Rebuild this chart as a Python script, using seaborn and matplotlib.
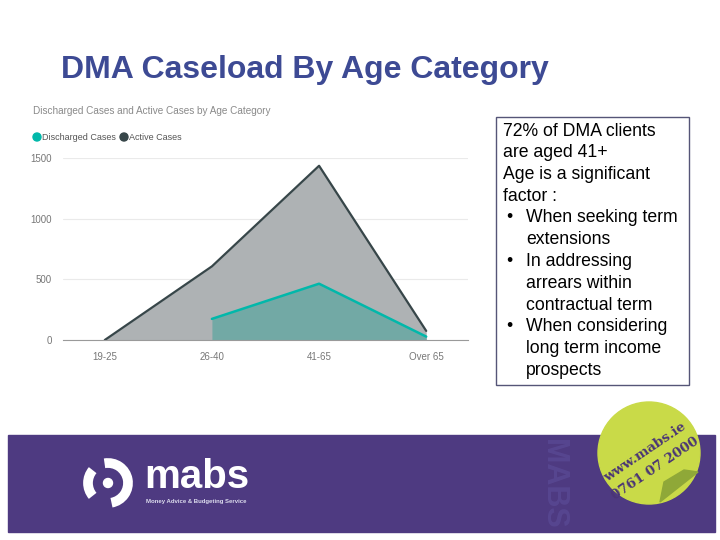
import numpy as np
import pandas as pd
import matplotlib
matplotlib.use("Agg")
import matplotlib.pyplot as plt
import matplotlib.patches as mpatches
import seaborn as sns

# Data
age_groups = ["19-25", "26-40", "41-65", "Over 65"]
active_cases = [0, 607, 1436, 75]
discharged_cases = [np.nan, 174, 464, 28]

notes = [
    ("72% of DMA clients", False),
    ("are aged 41+", False),
    ("Age is a significant", False),
    ("factor :", False),
    ("When seeking term", True),
    ("extensions", None),
    ("In addressing", True),
    ("arrears within", None),
    ("contractual term", None),
    ("When considering", True),
    ("long term income", None),
    ("prospects", None),
]

df = pd.DataFrame({
    "age": age_groups,
    "pos": range(len(age_groups)),
    "Active Cases": active_cases,
    "Discharged Cases": discharged_cases,
})

sns.set_style("white")
plt.rcParams["font.family"] = ["Liberation Sans", "DejaVu Sans"]

W, H = 720, 540
fig = plt.figure(figsize=(7.2, 5.4), dpi=100)

# overlay in pixel coordinates for the slide decoration
ov = fig.add_axes([0, 0, 1, 1])
ov.set_xlim(0, W)
ov.set_ylim(H, 0)
ov.axis("off")


def fy(y):
    return 1 - y / H


# Chart axes
ax = fig.add_axes([63 / W, fy(340), 405 / W, fy(158) - fy(340)])
ax.set_facecolor("none")

active_col = "#374649"
active_fill = "#AEB2B4"
dis_col = "#01B8AA"
dis_fill = "#72A9A5"

ax.fill_between(df["pos"], df["Active Cases"], color=active_fill, lw=0)
sns.lineplot(data=df, x="pos", y="Active Cases", ax=ax, color=active_col, lw=1.6)
d = df.dropna()
ax.fill_between(d["pos"], d["Discharged Cases"], color=dis_fill, lw=0)
sns.lineplot(data=d, x="pos", y="Discharged Cases", ax=ax, color=dis_col, lw=1.8)

ax.set_xlim(-0.39, 3.39)
ax.set_ylim(0, 1500)
ax.set_yticks([0, 500, 1000, 1500])
ax.set_xticks(df["pos"])
ax.set_xticklabels(age_groups)
ax.grid(axis="y", color="#EAEAEA", lw=0.8)
ax.set_axisbelow(True)
for s in ["top", "right", "left"]:
    ax.spines[s].set_visible(False)
ax.spines["bottom"].set_color("#9A9A9A")
ax.spines["bottom"].set_linewidth(0.8)
ax.tick_params(axis="both", length=0, labelsize=7, colors="#777777")
ax.tick_params(axis="x", pad=9)
ax.tick_params(axis="y", pad=8)
ax.set_xlabel("")
ax.set_ylabel("")

# Chart caption and legend
ov.text(33, 111, "Discharged Cases and Active Cases by Age Category",
        fontsize=7.2, color="#8A8A8A", va="center", ha="left")
ov.add_patch(mpatches.Circle((37, 137), 4, color=dis_col))
ov.text(42, 137, "Discharged Cases", fontsize=6.5, color="#555555",
        va="center", ha="left")
ov.add_patch(mpatches.Circle((124, 137), 4, color=active_col))
ov.text(129, 137, "Active Cases", fontsize=6.5, color="#555555",
        va="center", ha="left")

# Slide title
ov.text(61, 70, "DMA Caseload By Age Category", fontsize=23,
        fontweight="bold", color="#3D4A94", va="center", ha="left")

# Notes box
ov.add_patch(mpatches.Rectangle((496, 117), 193, 268, fill=False,
                                ec="#555577", lw=1))
y0, step = 131, 21.75
for i, (line, bullet) in enumerate(notes):
    yy = y0 + i * step
    if bullet is None:
        ov.text(526, yy, line, fontsize=12.7, color="black", va="center")
    elif bullet:
        ov.text(506, yy, "•", fontsize=12.7, color="black", va="center")
        ov.text(526, yy, line, fontsize=12.7, color="black", va="center")
    else:
        ov.text(503, yy, line, fontsize=12.7, color="black", va="center")

# Footer banner
banner = mpatches.Rectangle((8, 435), 707, 97, color="#4E3A81")
ov.add_patch(banner)
ov.text(553, 484, "MABS", fontsize=22, fontweight="bold",
        color="#574690", rotation=270, va="center", ha="center")

# logo
lx, ly = 108, 483
ov.add_patch(mpatches.Arc((lx, ly), 40, 40, theta1=-100, theta2=80,
                          lw=7, color="white"))
ov.add_patch(mpatches.Arc((lx, ly), 40, 40, theta1=140, theta2=220,
                          lw=7, color="white"))
ov.add_patch(mpatches.Circle((lx, ly), 4.5, color="white"))
ov.text(144, 477, "mabs", fontsize=29, fontweight="bold",
        color="white", va="center", ha="left")
ov.text(146, 502, "Money Advice & Budgeting Service", fontsize=4.3,
        fontweight="bold", color="#DDDDEE", va="center", ha="left")

# sticker
ov.add_patch(mpatches.Circle((649, 453), 51, color="#C9DA48"))
ov.add_patch(mpatches.Polygon([(660, 502), (698, 472), (684, 470),
                               (664, 482)], closed=True, color="#8FA838"))
ov.text(645, 452, "www.mabs.ie", fontsize=9.6, fontweight="bold",
        family="DejaVu Serif", color="#4A3575", rotation=34,
        va="center", ha="center")
ov.text(655, 469, "0761 07 2000", fontsize=9.6, fontweight="bold",
        family="DejaVu Serif", color="#4A3575", rotation=34,
        va="center", ha="center")

fig.savefig("out.png", dpi=100)
